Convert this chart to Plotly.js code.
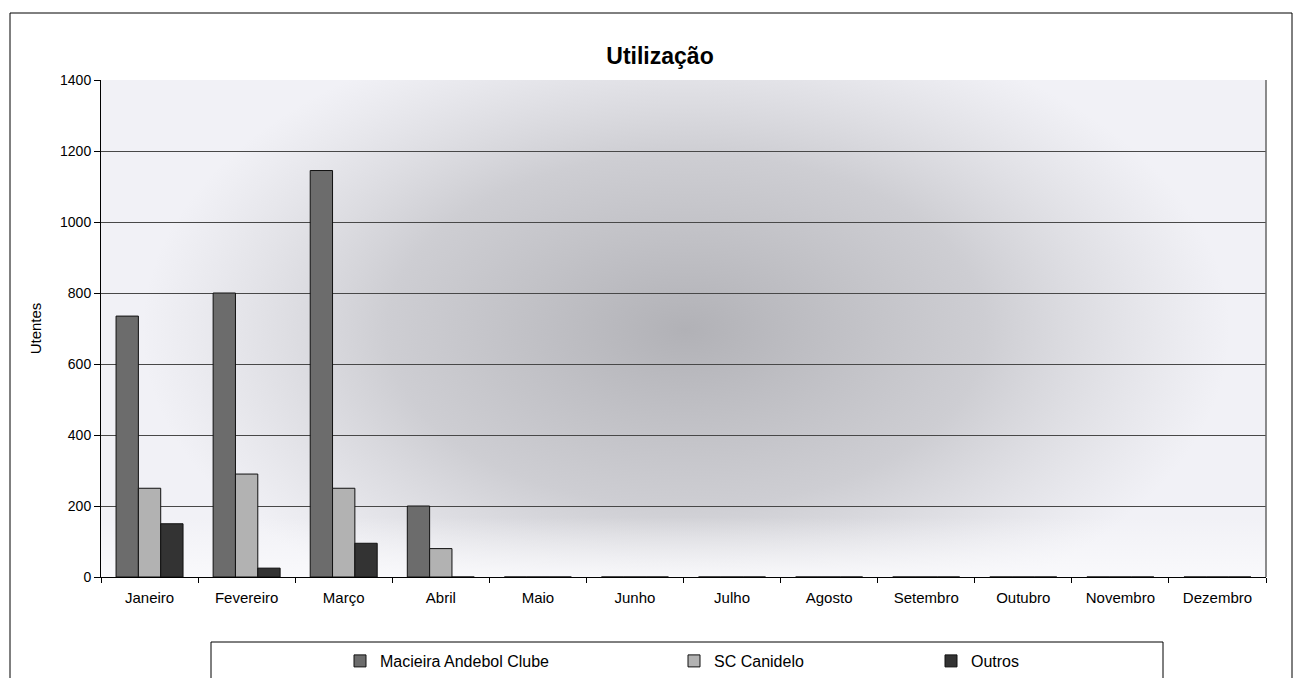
<!DOCTYPE html>
<html><head><meta charset="utf-8">
<script src="https://cdn.plot.ly/plotly-3.0.1.min.js"></script>
<style>html,body{margin:0;padding:0;background:#fff}#c{width:1300px;height:678px}</style>
</head><body><div id="c"></div>
<script>
const months = ["Janeiro","Fevereiro","Março","Abril","Maio","Junho","Julho","Agosto","Setembro","Outubro","Novembro","Dezembro"];
const macieira = [735, 800, 1145, 200, 0, 0, 0, 0, 0, 0, 0, 0];
const canidelo = [250, 290, 250, 80, 0, 0, 0, 0, 0, 0, 0, 0];
const outros = [150, 25, 95, 0, 0, 0, 0, 0, 0, 0, 0, 0];
const seriesNames = ["Macieira Andebol Clube", "SC Canidelo", "Outros"];

// background gradient image for the plot area
function bgImage() {
  const w = 1165, h = 497;
  const cv = document.createElement("canvas");
  cv.width = w; cv.height = h;
  const g = cv.getContext("2d");
  g.fillStyle = "#f1f1f6";
  g.fillRect(0, 0, w, h);
  g.save();
  g.translate(585, 250);
  g.scale(1.7, 1);
  const rg = g.createRadialGradient(0, 0, 0, 0, 0, 320);
  rg.addColorStop(0, "rgba(125,125,130,0.55)");
  rg.addColorStop(0.55, "rgba(140,140,145,0.35)");
  rg.addColorStop(1, "rgba(160,160,165,0)");
  g.fillStyle = rg;
  g.fillRect(-800, -400, 1600, 800);
  g.restore();
  const lg = g.createLinearGradient(0, h - 60, 0, h);
  lg.addColorStop(0, "rgba(250,250,252,0)");
  lg.addColorStop(1, "rgba(250,250,252,0.9)");
  g.fillStyle = lg;
  g.fillRect(0, h - 60, w, 60);
  return cv.toDataURL("image/png");
}

const colors = ["#6c6c6c", "#b2b2b2", "#333333"];
const legendIds = ["legend2", "legend3", "legend4"];
const data = [macieira, canidelo, outros].map((v, i) => ({
  type: "bar", x: months, y: v, name: seriesNames[i], legend: legendIds[i],
  marker: {color: colors[i], line: {color: "#111", width: 1}}
}));

const L = 101, plotW = 1165, B = 577, plotH = 497;
const px = p => (p - L) / plotW;
const py = p => (B - p) / plotH;
const legBase = {orientation: "h", xanchor: "left", yanchor: "top", y: py(644),
                 bgcolor: "rgba(0,0,0,0)", borderwidth: 0, font: {size: 16}, itemwidth: 30};

const layout = {
  width: 1300, height: 678,
  margin: {l: L, r: 1300 - L - plotW, t: 80, b: 678 - B, autoexpand: false},
  paper_bgcolor: "#fff", plot_bgcolor: "rgba(0,0,0,0)",
  font: {family: "Liberation Sans, Arial, sans-serif", color: "#000", size: 14},
  title: {text: "<b>Utilização</b>", xref: "container", x: 660 / 1300, xanchor: "center",
          yref: "container", y: 1 - 56 / 678, yanchor: "middle", font: {size: 23}},
  barmode: "group", bargap: 0.31, bargroupgap: 0,
  xaxis: {showline: true, linecolor: "#000", linewidth: 1, ticks: "outside", tickson: "boundaries",
          ticklen: 5, tickcolor: "#000", showgrid: false, tickfont: {size: 15}, automargin: false,
          ticklabelstandoff: 7},
  yaxis: {range: [0, 1400], dtick: 200, showline: true, linecolor: "#000", ticks: "outside", ticklen: 6,
          tickcolor: "#000", gridcolor: "#484848", gridwidth: 1, zeroline: false, automargin: false,
          title: {text: "Utentes", font: {size: 15}, standoff: 14}, tickfont: {size: 14}},
  legend2: Object.assign({}, legBase, {x: px(340)}),
  legend3: Object.assign({}, legBase, {x: px(674)}),
  legend4: Object.assign({}, legBase, {x: px(931)}),
  images: [{source: bgImage(), xref: "paper", yref: "paper", x: 0, y: 1, sizex: 1, sizey: 1,
            xanchor: "left", yanchor: "top", sizing: "stretch", layer: "below"}],
  shapes: [
    {type: "rect", xref: "paper", yref: "paper", x0: px(10), x1: px(1292), y0: py(700), y1: py(13),
     line: {color: "#000", width: 1}, fillcolor: "rgba(0,0,0,0)", layer: "below"},
    {type: "rect", xref: "paper", yref: "paper", x0: px(211), x1: px(1163), y0: py(700), y1: py(642),
     line: {color: "#000", width: 1}, fillcolor: "#fff", layer: "below"},
    {type: "line", xref: "paper", yref: "paper", x0: 1, x1: 1, y0: 0, y1: 1, line: {color: "#666", width: 1.5}}
  ]
};
Plotly.newPlot("c", data, layout, {displayModeBar: false, staticPlot: true});
</script></body></html>
